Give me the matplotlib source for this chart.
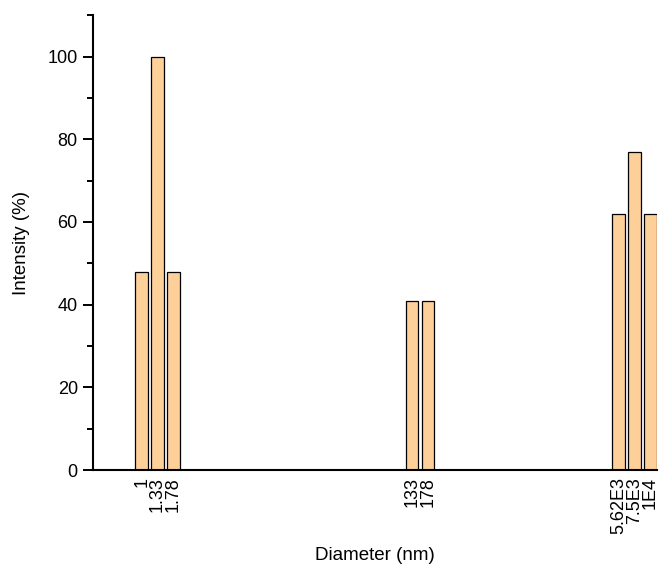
import numpy as np
import matplotlib.pyplot as plt
from matplotlib.ticker import NullLocator, MultipleLocator

plt.rcParams['font.family'] = ['Liberation Sans', 'DejaVu Sans']

# size distribution (diameter in nm, intensity in %)
diameter = [1, 1.33, 1.78, 133, 178, 5620, 7500, 10000]
intensity = [48, 100, 48, 41, 41, 62, 77, 62]
tick_labels = ['1', '1.33', '1.78', '133', '178', '5.62E3', '7.5E3', '1E4']

fig = plt.figure(figsize=(6.7, 5.65), dpi=100)
ax = fig.add_axes([0.139, 0.168, 0.842, 0.805])

# bars of constant width on the log axis (0.1 decade)
d = np.array(diameter, dtype=float)
half = 10 ** 0.05
ax.bar(d / half, intensity, width=d * half - d / half, align='edge',
       color='#FDD09A', edgecolor='black', linewidth=0.9)

ax.set_xscale('log')
ax.set_xlim(10 ** -0.382, 10 ** 4.053)
ax.set_ylim(0, 110)

ax.set_xticks(diameter)
ax.set_xticklabels(tick_labels, rotation=90)
ax.xaxis.set_minor_locator(NullLocator())
ax.tick_params(axis='x', length=0, pad=5, labelsize=13)

ax.yaxis.set_major_locator(MultipleLocator(20))
ax.yaxis.set_minor_locator(MultipleLocator(10))
ax.tick_params(axis='y', which='major', length=7, width=1.4, labelsize=13, pad=4)
ax.tick_params(axis='y', which='minor', length=4, width=1.4)

for side in ['top', 'right']:
    ax.spines[side].set_visible(False)
for side in ['left', 'bottom']:
    ax.spines[side].set_linewidth(1.5)

ax.set_xlabel('Diameter (nm)', fontsize=13.5, labelpad=9)
ax.set_ylabel('Intensity (%)', fontsize=13.5, labelpad=13)

fig.savefig('out.png', dpi=100)
